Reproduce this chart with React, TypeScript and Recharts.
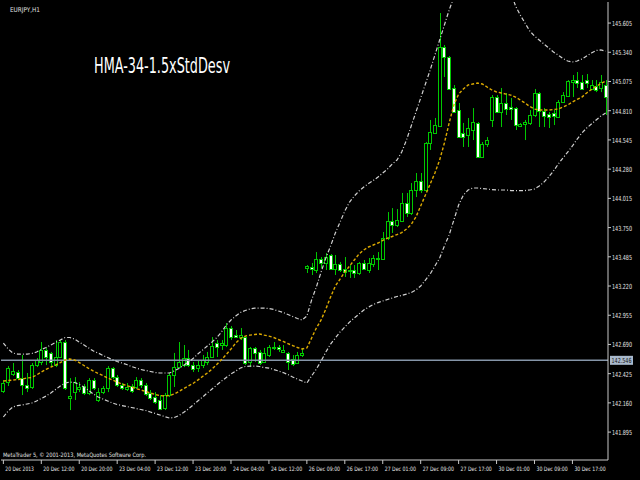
import React from 'react';
import { ComposedChart, Bar, Line, XAxis, YAxis, ReferenceLine } from 'recharts';

const opens = [142.268, 142.349, 142.422, 142.440, 142.385, 142.322, 142.304, 142.503, 142.531, 142.640,
  142.613, 142.503, 142.576, 142.712, 142.204, 142.258, 142.286, 142.313, 142.250, 142.367,
  142.186, 142.258, 142.295, 142.476, 142.394, 142.322, 142.286, 142.313, 142.304, 142.367,
  142.322, 142.250, 142.213, 142.186, 142.113, 142.231, 142.413, 142.485, 142.503, 142.567,
  142.503, 142.476, 142.503, 142.531, 142.576, 142.703, 142.685, 142.685, 142.839, 142.775,
  142.757, 142.757, 142.531, 142.658, 142.622, 142.531, 142.594, 142.658, 142.667, 142.622,
  142.613, 142.558, 142.522, 142.594,
  143.383, 143.392, 143.365, 143.465, 143.429, 143.501, 143.374, 143.420, 143.374, 143.356,
  143.365, 143.338, 143.429, 143.365, 143.420, 143.465, 143.465, 143.655, 143.810, 143.773,
  143.810, 143.973, 143.882, 144.091, 144.172, 144.091, 144.517, 144.608, 144.671, 145.388,
  145.297, 145.016, 144.816, 144.608, 144.590, 144.635, 144.698, 144.390, 144.508, 144.726,
  144.934, 144.798, 144.880, 144.843, 144.834, 144.671, 144.689, 144.698, 144.771, 144.970,
  144.807, 144.780, 144.789, 144.753, 144.889, 144.943, 145.070, 145.088, 145.070, 145.088,
  145.007, 145.034, 145.016, 145.043];

const highs = [142.367, 142.494, 142.522, 142.458, 142.594, 142.431, 142.522, 142.567, 142.712, 142.658,
  142.622, 142.730, 142.730, 142.730, 142.385, 142.394, 142.349, 142.331, 142.385, 142.385,
  142.295, 142.313, 142.494, 142.485, 142.413, 142.340, 142.340, 142.331, 142.394, 142.385,
  142.340, 142.277, 142.258, 142.231, 142.250, 142.431, 142.613, 142.712, 142.685, 142.640,
  142.531, 142.549, 142.594, 142.622, 142.757, 142.730, 142.730, 142.884, 142.857, 142.821,
  142.839, 142.766, 142.667, 142.667, 142.640, 142.658, 142.685, 142.712, 142.685, 142.685,
  142.622, 142.594, 142.622, 142.658,
  143.410, 143.429, 143.528, 143.483, 143.519, 143.510, 143.501, 143.438, 143.483, 143.410,
  143.410, 143.438, 143.456, 143.474, 143.501, 143.528, 143.710, 143.891, 143.927, 143.918,
  144.064, 144.064, 144.154, 144.245, 144.245, 144.526, 144.726, 144.744, 145.696, 145.406,
  145.306, 145.043, 144.880, 144.699, 144.744, 144.834, 144.707, 144.526, 144.571, 144.952,
  144.952, 145.016, 144.970, 144.925, 144.843, 144.698, 144.726, 144.816, 145.007, 144.979,
  144.834, 144.798, 144.816, 144.907, 144.979, 145.088, 145.134, 145.161, 145.134, 145.143,
  145.088, 145.088, 145.134, 145.088];

const lows = [142.250, 142.313, 142.404, 142.367, 142.231, 142.258, 142.286, 142.485, 142.503, 142.503,
  142.485, 142.485, 142.567, 142.277, 142.095, 142.186, 142.258, 142.231, 142.231, 142.277,
  142.168, 142.240, 142.258, 142.376, 142.304, 142.277, 142.268, 142.250, 142.286, 142.295,
  142.222, 142.186, 142.150, 142.095, 142.095, 142.213, 142.304, 142.476, 142.485, 142.485,
  142.440, 142.440, 142.476, 142.503, 142.567, 142.576, 142.640, 142.667, 142.730, 142.748,
  142.730, 142.503, 142.485, 142.531, 142.503, 142.522, 142.576, 142.640, 142.622, 142.613,
  142.458, 142.494, 142.513, 142.576,
  143.338, 143.320, 143.338, 143.383, 143.365, 143.365, 143.320, 143.347, 143.302, 143.293,
  143.293, 143.320, 143.365, 143.338, 143.392, 143.365, 143.456, 143.637, 143.701, 143.755,
  143.801, 143.846, 143.864, 144.027, 144.064, 144.073, 144.454, 144.599, 144.662, 145.116,
  144.998, 144.789, 144.571, 144.481, 144.481, 144.544, 144.381, 144.381, 144.481, 144.662,
  144.789, 144.662, 144.771, 144.726, 144.635, 144.662, 144.544, 144.680, 144.753, 144.662,
  144.662, 144.653, 144.680, 144.744, 144.880, 144.934, 144.934, 145.016, 144.998, 145.016,
  144.998, 144.979, 144.979, 144.771];

const closes = [142.340, 142.476, 142.449, 142.385, 142.322, 142.295, 142.503, 142.549, 142.640, 142.576,
  142.531, 142.576, 142.712, 142.295, 142.222, 142.349, 142.304, 142.250, 142.367, 142.295,
  142.258, 142.295, 142.476, 142.394, 142.322, 142.295, 142.304, 142.268, 142.367, 142.322,
  142.240, 142.204, 142.168, 142.104, 142.231, 142.413, 142.485, 142.531, 142.567, 142.503,
  142.467, 142.503, 142.549, 142.576, 142.676, 142.667, 142.703, 142.839, 142.757, 142.757,
  142.775, 142.522, 142.658, 142.613, 142.522, 142.613, 142.667, 142.667, 142.649, 142.640,
  142.531, 142.513, 142.594, 142.613,
  143.401, 143.374, 143.465, 143.429, 143.483, 143.374, 143.420, 143.365, 143.347, 143.365,
  143.338, 143.429, 143.374, 143.429, 143.474, 143.474, 143.655, 143.810, 143.773, 143.819,
  143.973, 143.882, 144.091, 144.172, 144.091, 144.517, 144.617, 144.680, 145.388, 145.297,
  145.007, 144.798, 144.571, 144.571, 144.653, 144.707, 144.390, 144.508, 144.544, 144.934,
  144.798, 144.880, 144.825, 144.825, 144.680, 144.689, 144.707, 144.771, 144.970, 144.807,
  144.762, 144.753, 144.762, 144.889, 144.952, 145.079, 145.088, 145.061, 145.007, 145.061,
  145.043, 144.998, 145.070, 144.934];

const hmaValues = [142.358, 142.363, 142.367, 142.372, 142.376, 142.386, 142.390, 142.413, 142.440, 142.463,
  142.485, 142.503, 142.526, 142.549, 142.558, 142.549, 142.526, 142.499, 142.472, 142.449,
  142.426, 142.408, 142.386, 142.367, 142.349, 142.331, 142.317, 142.304, 142.290, 142.277,
  142.263, 142.250, 142.236, 142.227, 142.222, 142.227, 142.240, 142.263, 142.290, 142.313,
  142.336, 142.367, 142.399, 142.431, 142.467, 142.508, 142.553, 142.599, 142.649, 142.703,
  142.744, 142.766, 142.775, 142.780, 142.785, 142.775, 142.766, 142.753, 142.735, 142.717,
  142.698, 142.680, 142.662, 142.649, 142.658, 142.748, 142.839, 142.912, 143.011, 143.120,
  143.220, 143.283, 143.347, 143.401, 143.456, 143.510, 143.547, 143.574, 143.592, 143.610,
  143.633, 143.655, 143.669, 143.687, 143.705, 143.737, 143.778, 143.846, 143.946, 144.045,
  144.145, 144.245, 144.363, 144.517, 144.698, 144.862, 144.961, 145.007, 145.043, 145.052,
  145.061, 145.052, 145.025, 144.998, 144.980, 144.971, 144.961, 144.952, 144.934, 144.907,
  144.880, 144.848, 144.825, 144.816, 144.816, 144.816, 144.821, 144.825, 144.843, 144.862,
  144.889, 144.912, 144.934, 144.971, 145.002, 145.029, 145.057, 145.079];

const upperBand = [142.703, 142.649, 142.612, 142.603, 142.603, 142.603, 142.608, 142.621, 142.644, 142.662,
  142.685, 142.708, 142.730, 142.753, 142.753, 142.739, 142.712, 142.685, 142.658, 142.630,
  142.612, 142.590, 142.571, 142.553, 142.535, 142.522, 142.508, 142.490, 142.476, 142.463,
  142.454, 142.445, 142.435, 142.431, 142.431, 142.431, 142.449, 142.472, 142.499, 142.531,
  142.562, 142.603, 142.639, 142.676, 142.712, 142.753, 142.803, 142.866, 142.912, 142.948,
  142.980, 142.998, 143.011, 143.020, 143.020, 143.020, 143.016, 143.007, 142.993, 142.980,
  142.962, 142.943, 142.925, 142.912, 142.948, 143.093, 143.211, 143.347, 143.474, 143.583,
  143.701, 143.800, 143.900, 143.982, 144.036, 144.082, 144.118, 144.150, 144.177, 144.209,
  144.245, 144.281, 144.327, 144.363, 144.435, 144.544, 144.671, 144.798, 144.925, 145.052,
  145.179, 145.315, 145.451, 145.587, 145.723, 145.841, 145.977, 146.086, 146.195, 146.286,
  146.340, 146.376, 146.376, 146.340, 146.249, 146.131, 146.014, 145.887, 145.760, 145.678,
  145.605, 145.533, 145.487, 145.451, 145.415, 145.379, 145.342, 145.315, 145.283, 145.261,
  145.252, 145.261, 145.279, 145.306, 145.333, 145.356, 145.361, 145.351];

const lowerBand = [142.032, 142.086, 142.123, 142.136, 142.141, 142.150, 142.159, 142.177, 142.200, 142.222,
  142.250, 142.281, 142.313, 142.340, 142.349, 142.345, 142.327, 142.304, 142.272, 142.240,
  142.213, 142.195, 142.177, 142.159, 142.145, 142.136, 142.127, 142.118, 142.109, 142.100,
  142.091, 142.077, 142.064, 142.050, 142.036, 142.023, 142.027, 142.045, 142.073, 142.104,
  142.141, 142.177, 142.213, 142.250, 142.286, 142.322, 142.358, 142.390, 142.422, 142.449,
  142.476, 142.490, 142.494, 142.494, 142.490, 142.481, 142.476, 142.463, 142.449, 142.435,
  142.417, 142.395, 142.376, 142.358, 142.340, 142.404, 142.467, 142.540, 142.621, 142.694,
  142.748, 142.803, 142.848, 142.893, 142.930, 142.966, 143.002, 143.029, 143.052, 143.070,
  143.084, 143.098, 143.111, 143.125, 143.134, 143.147, 143.161, 143.184, 143.220, 143.274,
  143.329, 143.401, 143.474, 143.583, 143.683, 143.819, 143.955, 144.045, 144.091, 144.109,
  144.109, 144.104, 144.100, 144.095, 144.091, 144.091, 144.091, 144.086, 144.086, 144.086,
  144.086, 144.091, 144.100, 144.127, 144.163, 144.209, 144.263, 144.326, 144.381, 144.435,
  144.490, 144.553, 144.608, 144.653, 144.689, 144.726, 144.762, 144.789];

const xTickLabels = ['20 Dec 2013', '20 Dec 12:00', '20 Dec 20:00', '23 Dec 04:00', '23 Dec 12:00',
  '23 Dec 20:00', '24 Dec 04:00', '24 Dec 12:00', '26 Dec 09:00', '26 Dec 17:00', '27 Dec 01:00',
  '27 Dec 09:00', '27 Dec 17:00', '30 Dec 01:00', '30 Dec 09:00', '30 Dec 17:00'];
const BARS_PER_LABEL = 8;

const yTicks = [141.895, 142.160, 142.425, 142.690, 142.955, 143.220, 143.485, 143.750,
  144.015, 144.280, 144.545, 144.810, 145.075, 145.340, 145.605];
const yDomain = [141.642, 145.796];
const priceLine = 142.546;

const symbolText = 'EURJPY,H1';
const titleText = 'HMA-34-1.5xStdDesv';
const copyrightText = 'MetaTrader 5, \u00a9 2001-2013, MetaQuotes Software Corp.';

const data = opens.map((o, i) => ({
  i,
  open: o,
  high: highs[i],
  low: lows[i],
  close: closes[i],
  range: [lows[i], highs[i]],
  hma: hmaValues[i],
  upper: upperBand[i],
  lower: lowerBand[i],
}));

const GREEN = '#00c800';
const AXIS = '#c8c8c8';
const NARROW = '"DejaVu Sans Condensed", "Liberation Sans Narrow", sans-serif';

const Candle = (props: any) => {
  const { x, y, width, height, payload } = props;
  if (!payload || height == null) return null;
  const { open, close, high, low } = payload;
  const span = high - low;
  const toY = (v: number) => (span > 0 ? y + ((high - v) / span) * height : y);
  const cx = Math.round(x + width / 2) + 0.5;
  const top = Math.round(toY(Math.max(open, close))) + 0.5;
  let bot = Math.round(toY(Math.min(open, close))) + 0.5;
  if (bot - top < 1) bot = top + 1;
  const bull = close >= open;
  return (
    <g>
      <line x1={cx} x2={cx} y1={y} y2={y + height} stroke={GREEN} strokeWidth={1} />
      <rect x={cx - 2} y={top} width={3} height={bot - top} fill={bull ? '#000' : '#fff'} stroke={GREEN} strokeWidth={1} />
    </g>
  );
};

const XTick = (props: any) => {
  const { x, y, payload } = props;
  const label = xTickLabels[Math.round(payload.value / BARS_PER_LABEL)] ?? '';
  return (
    <text x={x + 2} y={y + 6} fill="#e6e6e6" fontSize={6} fontFamily={NARROW}
      textLength={label.length * 2.6} lengthAdjust="spacingAndGlyphs">{label}</text>
  );
};

const YTick = (props: any) => {
  const { x, y, payload } = props;
  const label = Number(payload.value).toFixed(3);
  return (
    <text x={x} y={y + 3} fill="#e6e6e6" fontSize={7} fontFamily={NARROW}
      textLength={20} lengthAdjust="spacingAndGlyphs">{label}</text>
  );
};

const PriceLabel = (props: any) => {
  const vb = props.viewBox || {};
  const xx = (vb.x ?? 0) + (vb.width ?? 0);
  const yy = vb.y ?? 0;
  return (
    <g>
      <rect x={xx + 2} y={yy - 4.5} width={23} height={9} fill="#a9b9cc" />
      <text x={xx + 3.5} y={yy + 3} fill="#111" fontSize={7} fontFamily={NARROW}
        textLength={20} lengthAdjust="spacingAndGlyphs">{priceLine.toFixed(3)}</text>
    </g>
  );
};

export default function App() {
  return (
    <div style={{ position: 'absolute', left: 0, top: 0, width: 640, height: 480, background: '#000' }}>
      <ComposedChart width={640} height={480} data={data}
        margin={{ top: 2, right: 0, bottom: 0, left: 1 }} style={{ background: '#000' }}>
        <XAxis dataKey="i" type="category" height={20} interval={BARS_PER_LABEL - 1}
          axisLine={{ stroke: AXIS }} tickLine={{ stroke: AXIS }} tickSize={4} tickMargin={1}
          tick={<XTick />} />
        <XAxis xAxisId="top" dataKey="i" orientation="top" height={0} tick={false} tickLine={false}
          axisLine={{ stroke: AXIS }} />
        <YAxis type="number" orientation="right" width={32} domain={yDomain} allowDataOverflow
          ticks={yTicks} interval={0} axisLine={{ stroke: AXIS }} tickLine={{ stroke: AXIS }}
          tickSize={3} tickMargin={1} tick={<YTick />} />
        <YAxis yAxisId="left" orientation="left" width={0} tick={false} tickLine={false}
          axisLine={{ stroke: AXIS }} />
        <ReferenceLine y={priceLine} stroke="#8595a8" strokeWidth={1.5} label={PriceLabel} />
        <Bar dataKey="range" shape={<Candle />} isAnimationActive={false} />
        <Line dataKey="upper" stroke="#d0d0d0" strokeWidth={1.2} strokeDasharray="4 2 1 2" dot={false}
          type="linear" isAnimationActive={false} />
        <Line dataKey="lower" stroke="#d0d0d0" strokeWidth={1.2} strokeDasharray="4 2 1 2" dot={false}
          type="linear" isAnimationActive={false} />
        <Line dataKey="hma" stroke="#dcaa00" strokeWidth={1.4} strokeDasharray="3 2" dot={false}
          type="linear" isAnimationActive={false} />
      </ComposedChart>
      <svg width={640} height={480} style={{ position: 'absolute', left: 0, top: 0, pointerEvents: 'none' }}>
        <text x={10} y={12} fill="#e0e0e0" fontSize={6.5} fontFamily={NARROW}
          textLength={30} lengthAdjust="spacingAndGlyphs">{symbolText}</text>
        <text x={94} y={73} fill="#ffffff" fontSize={21} fontFamily={NARROW}
          textLength={136} lengthAdjust="spacingAndGlyphs">{titleText}</text>
        <text x={3} y={457} fill="#e0e0e0" fontSize={6} fontFamily={NARROW}
          textLength={143} lengthAdjust="spacingAndGlyphs">{copyrightText}</text>
      </svg>
    </div>
  );
}
